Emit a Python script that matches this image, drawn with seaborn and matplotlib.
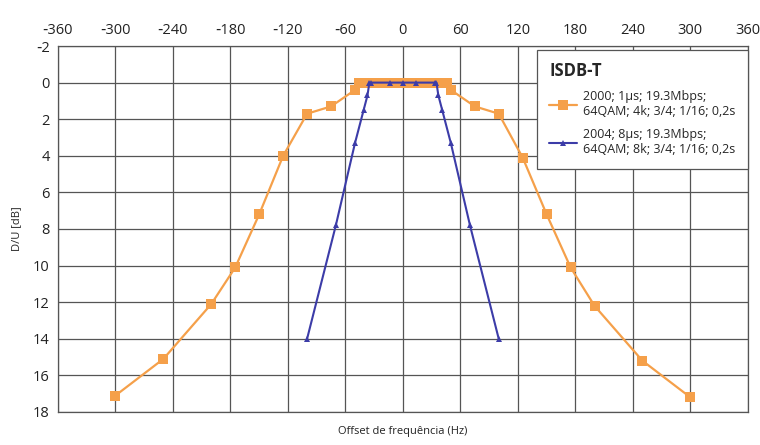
import pandas as pd
import matplotlib
matplotlib.use('Agg')
import matplotlib.pyplot as plt
import seaborn as sns

# D/U protection ratio vs frequency offset
offset_2000 = [-300, -250, -200, -175, -150, -125, -100, -75, -50, -46, -40, -30, -20, -10, -5, 0,
               5, 10, 20, 30, 40, 46, 50, 75, 100, 125, 150, 175, 200, 250, 300]
du_2000 = [17.1, 15.1, 12.1, 10.1, 7.2, 4.0, 1.7, 1.3, 0.4, 0.0, 0.0, 0.0, 0.0, 0.0, 0.0, 0.0,
           0.0, 0.0, 0.0, 0.0, 0.0, 0.0, 0.4, 1.3, 1.7, 4.1, 7.2, 10.1, 12.2, 15.2, 17.2]

offset_2004 = [-100, -70, -50, -41, -37, -35, -33, -14, 0, 14, 33, 35, 37, 41, 50, 70, 100]
du_2004 = [14.0, 7.8, 3.3, 1.5, 0.7, 0.0, 0.0, 0.0, 0.0, 0.0, 0.0, 0.0, 0.7, 1.5, 3.3, 7.8, 14.0]

label_2000 = '2000; 1\u00b5s; 19.3Mbps;\n64QAM; 4k; 3/4; 1/16; 0,2s'
label_2004 = '2004; 8\u00b5s; 19.3Mbps;\n64QAM; 8k; 3/4; 1/16; 0,2s'

x_ticks = list(range(-360, 361, 60))
y_ticks = list(range(-2, 19, 2))

sns.set_style('white')
plt.rcParams['font.family'] = ['Open Sans', 'DejaVu Sans']

fig = plt.figure(figsize=(7.6, 4.45), dpi=100)
ax = fig.add_axes([0.0763, 0.0742, 0.9077, 0.8224])

sns.lineplot(x=offset_2000, y=du_2000, ax=ax, sort=False, color='#f5a04a', linewidth=1.6,
             marker='s', markersize=6.5, markeredgewidth=0, label=label_2000)
sns.lineplot(x=offset_2004, y=du_2004, ax=ax, sort=False, color='#3c3ca8', linewidth=1.5,
             marker='^', markersize=5, markeredgewidth=0, label=label_2004)

ax.set_xlim(-360, 360)
ax.set_ylim(18, -2)
ax.set_xticks(x_ticks)
ax.set_yticks(y_ticks)
ax.set_yticklabels([str(v).replace('-', '\u2010') for v in y_ticks])
ax.set_xticklabels([str(v).replace('-', '\u2010') for v in x_ticks])
ax.xaxis.tick_top()
ax.tick_params(axis='both', length=0, labelsize=10.5, colors='#222222', pad=6)
ax.grid(True, color='#555555', linewidth=0.9)
for s in ax.spines.values():
    s.set_color('#555555')
    s.set_linewidth(0.9)

ax.set_xlabel('Offset de frequência (Hz)', fontsize=8, color='#222222', labelpad=10)
ax.xaxis.set_label_position('bottom')
ax.set_ylabel('D/U [dB]', fontsize=8, color='#222222', labelpad=8)

leg = ax.legend(title='ISDB-T', loc='upper right', bbox_to_anchor=(1.0, 0.99), fontsize=9,
                frameon=True, fancybox=False, framealpha=1, edgecolor='#555555',
                handlelength=2.2, handletextpad=0.5, borderpad=1.0, labelspacing=0.8,
                borderaxespad=0.0, alignment='left')
leg.get_title().set_fontweight('bold')
leg.get_title().set_fontsize(12)
leg.get_frame().set_linewidth(0.9)

fig.savefig('out.png', dpi=100)
